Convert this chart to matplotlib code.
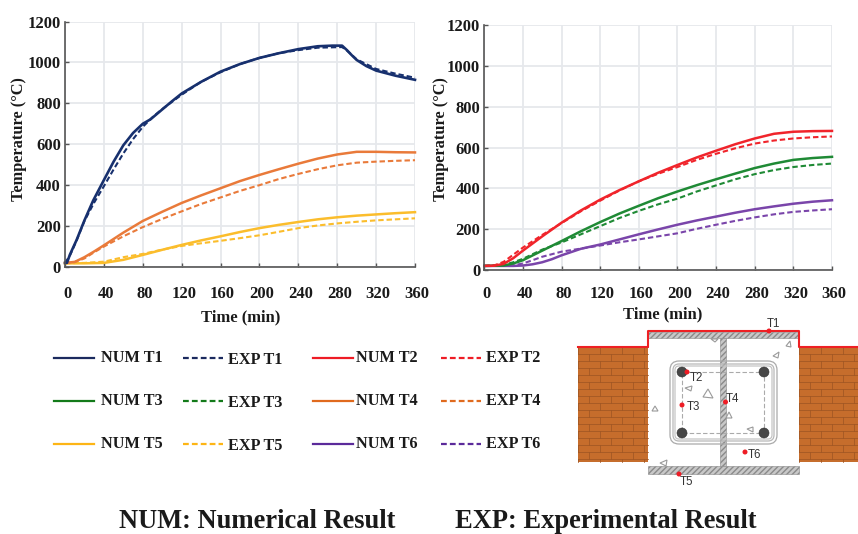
import matplotlib
matplotlib.use("Agg")
import matplotlib.pyplot as plt
from matplotlib.patches import Rectangle, FancyBboxPatch, Circle, Polygon
from matplotlib.transforms import ScaledTranslation

plt.rcParams['font.family'] = ['Liberation Serif', 'DejaVu Serif']
plt.rcParams['font.weight'] = 'bold'

# left chart
t1_num_t = [0, 2, 5, 12, 20, 29, 40, 50, 60, 70, 80, 88, 100, 110, 120, 140, 160, 180, 200, 220, 240, 260, 275, 285, 290, 295, 300, 310, 320, 340, 360]
t1_num = [20, 20, 60, 133, 228, 325, 425, 515, 595, 655, 700, 722, 770, 810, 848, 905, 955, 992, 1022, 1045, 1065, 1079, 1082, 1082, 1060, 1035, 1012, 982, 960, 935, 915]
t1_exp_t = [0, 5, 12, 20, 30, 40, 50, 60, 70, 80, 90, 100, 120, 140, 160, 180, 200, 220, 240, 260, 285, 290, 300, 320, 340, 360]
t1_exp = [20, 55, 130, 225, 315, 395, 477, 555, 625, 685, 732, 772, 842, 905, 952, 992, 1022, 1045, 1060, 1072, 1075, 1058, 1015, 968, 945, 925]
t4_num_t = [0, 10, 20, 30, 40, 60, 80, 100, 120, 140, 160, 180, 200, 220, 240, 260, 280, 300, 320, 340, 360]
t4_num = [20, 25, 48, 76, 106, 168, 225, 270, 313, 350, 385, 420, 450, 478, 505, 530, 550, 563, 563, 561, 560]
t4_exp_t = [0, 10, 20, 30, 40, 60, 80, 100, 120, 140, 160, 180, 200, 220, 240, 260, 280, 300, 320, 340, 360]
t4_exp = [20, 24, 42, 72, 100, 150, 195, 235, 272, 308, 340, 372, 400, 430, 455, 478, 497, 510, 515, 519, 522]
t5_num_t = [0, 20, 40, 60, 80, 100, 120, 140, 160, 180, 200, 220, 240, 260, 280, 300, 320, 340, 360]
t5_num = [18, 18, 20, 35, 59, 84, 108, 130, 150, 171, 190, 206, 220, 233, 243, 251, 257, 263, 268]
t5_exp_t = [0, 20, 40, 60, 80, 100, 120, 140, 160, 180, 200, 220, 240, 260, 280, 300, 320, 340, 360]
t5_exp = [18, 20, 26, 48, 64, 85, 103, 116, 128, 141, 155, 172, 190, 203, 213, 221, 228, 233, 238]

# right chart
t2_num_t = [0, 10, 20, 30, 40, 60, 80, 100, 120, 140, 160, 180, 200, 220, 240, 260, 280, 300, 320, 340, 360]
t2_num = [20, 21, 30, 58, 95, 165, 232, 292, 345, 392, 435, 477, 515, 552, 585, 617, 645, 668, 678, 681, 682]
t2_exp_t = [0, 10, 20, 30, 40, 60, 80, 100, 120, 140, 160, 180, 200, 220, 240, 260, 280, 300, 320, 340, 360]
t2_exp = [20, 22, 40, 75, 110, 172, 230, 288, 340, 390, 435, 472, 505, 540, 570, 597, 620, 635, 645, 651, 655]
t3_num_t = [0, 20, 30, 40, 60, 80, 100, 120, 140, 160, 180, 200, 220, 240, 260, 280, 300, 320, 340, 360]
t3_num = [20, 22, 32, 48, 95, 142, 190, 235, 277, 315, 352, 385, 416, 445, 473, 500, 522, 540, 549, 555]
t3_exp_t = [0, 20, 30, 40, 60, 80, 100, 120, 140, 160, 180, 200, 220, 240, 260, 280, 300, 320, 340, 360]
t3_exp = [20, 25, 38, 55, 100, 135, 175, 215, 255, 290, 322, 350, 385, 415, 445, 470, 490, 505, 515, 522]
t6_num_t = [0, 30, 40, 50, 60, 70, 80, 100, 120, 140, 160, 180, 200, 220, 240, 260, 280, 300, 320, 340, 360]
t6_num = [20, 20, 22, 28, 38, 53, 72, 104, 125, 150, 175, 199, 222, 243, 262, 281, 298, 312, 325, 335, 342]
t6_exp_t = [0, 20, 30, 40, 50, 60, 80, 100, 120, 140, 160, 180, 200, 220, 240, 260, 280, 300, 320, 340, 360]
t6_exp = [20, 20, 23, 32, 48, 65, 90, 105, 120, 136, 150, 165, 180, 202, 222, 241, 258, 273, 285, 292, 298]

x_ticks = [0, 40, 80, 120, 160, 200, 240, 280, 320, 360]
y_ticks = [0, 200, 400, 600, 800, 1000, 1200]

W, H = 858, 534
NAVY, RED, GREEN = '#17306e', '#f0242b', '#1f8a35'
ORANGE, YELLOW, PURPLE = '#e97a3a', '#fbbd2c', '#7a45aa'
DASH = (0, (2.6, 1.4))

def px_axes(x0, x1, ytop, y0):
    return fig.add_axes([x0/W, 1-y0/H, (x1-x0)/W, (y0-ytop)/H])

def setup(ax, pad):
    ax.set_xlim(0, 360)
    ax.set_ylim(0, 1200)
    ax.set_xticks(x_ticks)
    ax.set_yticks(y_ticks)
    ax.grid(color='#e6e8ec', lw=1.3)
    ax.set_axisbelow(True)
    for s in ['top', 'right']:
        ax.spines[s].set_visible(False)
    for s in ['left', 'bottom']:
        ax.spines[s].set_color('#555555')
        ax.spines[s].set_linewidth(1.2)
    ax.tick_params(axis='x', direction='in', length=3, width=1, color='#555555', pad=pad, labelsize=12, labelcolor='#1a1a1a')
    ax.tick_params(axis='y', direction='in', length=3, width=1, color='#555555', pad=3, labelsize=12, labelcolor='#1a1a1a')
    # labels sit a little right of their ticks in the reference
    off = ScaledTranslation(2/72*0.72*1.0, 0, fig.dpi_scale_trans)
    for lab in ax.get_xticklabels():
        lab.set_transform(lab.get_transform() + off)

fig = plt.figure(figsize=(W/100, H/100), dpi=100)

ax1 = px_axes(65, 415, 21.5, 267)
setup(ax1, 14)
ax1.plot(t5_exp_t, t5_exp, color=YELLOW, ls=DASH, lw=1.5, clip_on=False)
ax1.plot(t5_num_t, t5_num, color=YELLOW, lw=1.8, clip_on=False)
ax1.plot(t4_exp_t, t4_exp, color=ORANGE, ls=DASH, lw=1.5, clip_on=False)
ax1.plot(t4_num_t, t4_num, color=ORANGE, lw=1.8, clip_on=False)
ax1.plot(t1_exp_t, t1_exp, color=NAVY, ls=DASH, lw=1.5, clip_on=False)
ax1.plot(t1_num_t, t1_num, color=NAVY, lw=1.9, clip_on=False)

ax2 = px_axes(484.3, 832, 25.3, 270)
setup(ax2, 11.5)
ax2.plot(t6_exp_t, t6_exp, color=PURPLE, ls=DASH, lw=1.5, clip_on=False)
ax2.plot(t6_num_t, t6_num, color=PURPLE, lw=1.8, clip_on=False)
ax2.plot(t3_exp_t, t3_exp, color=GREEN, ls=DASH, lw=1.5, clip_on=False)
ax2.plot(t3_num_t, t3_num, color=GREEN, lw=1.8, clip_on=False)
ax2.plot(t2_exp_t, t2_exp, color=RED, ls=DASH, lw=1.5, clip_on=False)
ax2.plot(t2_num_t, t2_num, color=RED, lw=1.8, clip_on=False)

# overlay in image pixels for labels, legend and the section drawing
ov = fig.add_axes([0, 0, 1, 1], zorder=5)
ov.set_xlim(0, W)
ov.set_ylim(H, 0)
ov.axis('off')
ov.patch.set_alpha(0)

TXT = '#1a1a1a'
ov.text(241, 317, 'Time (min)', ha='center', va='center', fontsize=11.9, color=TXT)
ov.text(663, 314, 'Time (min)', ha='center', va='center', fontsize=11.9, color=TXT)
ov.text(19, 139, 'Temperature (°C)', ha='center', va='center', rotation=90, fontsize=11.8, color=TXT)
ov.text(441, 139, 'Temperature (°C)', ha='center', va='center', rotation=90, fontsize=11.8, color=TXT)

# legend
rows = [358, 401, 444]
legend = [
    [('NUM T1', '#1b2a5e', 54, 100, 0), ('EXP T1', '#1b2a5e', 183, 227, 2), ('NUM T2', '#ee1c25', 313, 355, 0), ('EXP T2', '#ee1c25', 441, 485, 0)],
    [('NUM T3', '#137a1a', 54, 100, 0), ('EXP T3', '#137a1a', 183, 227, 2), ('NUM T4', '#e06a1e', 313, 355, 0), ('EXP T4', '#e06a1e', 441, 485, 0)],
    [('NUM T5', '#fdb515', 54, 100, 0), ('EXP T5', '#fdb515', 183, 227, 2), ('NUM T6', '#5b2a9a', 313, 355, 0), ('EXP T6', '#5b2a9a', 441, 485, 0)],
]
for y, row in zip(rows, legend):
    for name, c, lx, tx, dy in row:
        ls = DASH if name.startswith('EXP') else '-'
        ov.plot([lx, lx+40], [y, y], color=c, lw=1.6, ls=ls)
        ov.text(tx+1, y+dy, name, ha='left', va='center', fontsize=11.7, color=TXT)

ov.text(119, 521, 'NUM: Numerical Result', ha='left', va='center', fontsize=19.1, color=TXT)
ov.text(455, 521, 'EXP: Experimental Result', ha='left', va='center', fontsize=19.1, color=TXT)

# brick walls
BRICK, MORTAR = '#c66d2c', '#a05623'
for x0, x1 in [(578, 648), (799, 858)]:
    ov.add_patch(Rectangle((x0, 347), x1-x0, 115, fc=BRICK, ec='none'))
    for i in range(17):
        y = 347 + i*7
        ov.plot([x0, x1], [y, y], color=MORTAR, lw=0.55)
        x = x0 + (i % 2)*11
        while x < x1:
            ov.plot([x, x], [y, min(y+7, 462)], color=MORTAR, lw=0.55)
            x += 22

# steel section and concrete
ov.add_patch(Rectangle((648, 331), 151, 135, fc='white', ec='none'))
for r in [(648, 332, 151, 6), (648, 466, 151, 8), (720, 338, 6, 128)]:
    ov.add_patch(Rectangle(r[:2], r[2], r[3], fc='#c8c8c8', ec='#8a8a8a', lw=0.4, hatch='//////'))
ov.plot([578, 648, 648, 799, 799, 858], [347, 347, 331, 331, 347, 347], color='#ee2024', lw=1.5)

# rebar cage
for m, c in [(0, '#aaaaaa'), (3, '#b8b8b8'), (5, '#c4c4c4')]:
    r = 9 - m
    ov.add_patch(FancyBboxPatch((670+m+r, 361+m+r), 107-2*m-2*r, 83-2*m-2*r, boxstyle='round,pad=%d' % r, fc='none', ec=c, lw=0.9))
ov.add_patch(Rectangle((682, 372), 82, 61, fc='none', ec='#aaaaaa', lw=0.8, ls=(0, (4, 2))))
for cx, cy in [(682, 372), (764, 372), (682, 433), (764, 433)]:
    ov.add_patch(Circle((cx, cy), 5, fc='#474747', ec='#333333', lw=0.4, zorder=4))

# aggregate triangles
tri = [[(713, 398), (708, 389), (703, 397)], [(692, 386), (685, 388), (691, 391)], [(658, 411), (655, 406), (652, 411)],
       [(732, 418), (729, 412), (726, 418)], [(753, 427), (747, 429), (753, 432)], [(667, 460), (660, 463), (666, 466)],
       [(779, 352), (773, 356), (778, 358)], [(790, 341), (786, 346), (791, 347)], [(711, 339), (718, 339), (715, 342)]]
for p in tri:
    ov.add_patch(Polygon(p, closed=True, fc='white', ec='#9a9a9a', lw=0.8))

# sensor points
sensors = [('T1', 769, 331, 773, 324), ('T2', 687, 372, 696, 378), ('T3', 682, 405, 693, 407), ('T4', 725.5, 402, 732, 399),
           ('T5', 679, 474, 686, 482), ('T6', 745, 452, 754, 455)]
for name, sx, sy, tx, ty in sensors:
    ov.add_patch(Circle((sx, sy), 2.5, fc='#ee1c25', ec='none', zorder=6))
    ov.text(tx, ty, name, ha='center', va='center', fontsize=8.3, fontweight='normal', family='Liberation Sans', color='#333333', zorder=6)

fig.savefig('out.png', dpi=100)
